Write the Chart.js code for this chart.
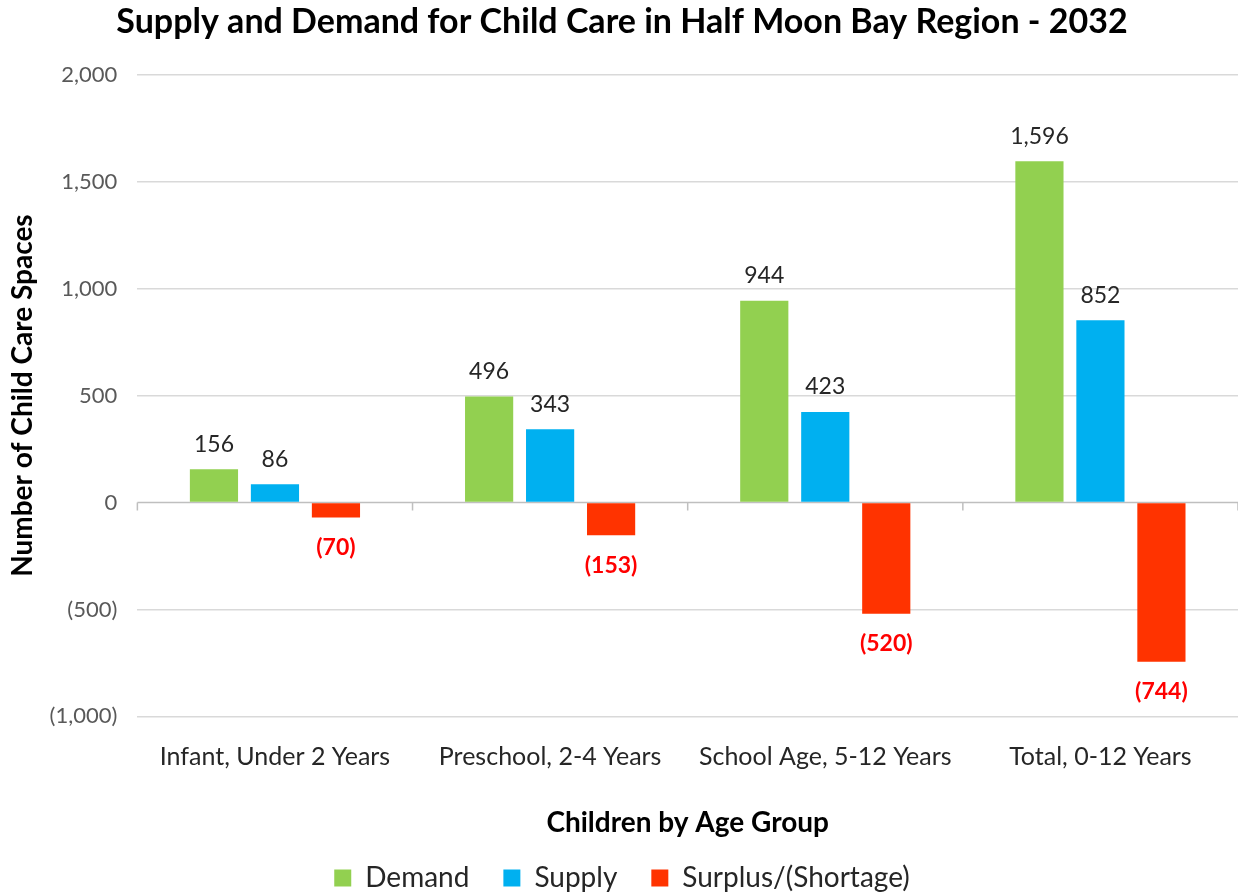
<!DOCTYPE html>
<html>
<head>
<meta charset="utf-8">
<script src="https://cdn.jsdelivr.net/npm/chart.js@4.4.0/dist/chart.umd.min.js"></script>
<style>
  html, body { margin: 0; padding: 0; background: #fff; }
  #wrap { width: 1238px; height: 894px; }
</style>
</head>
<body>
<div id="wrap"><canvas id="supplyChart" width="1238" height="894"></canvas></div>
<script>
const categories = ['Infant, Under 2 Years', 'Preschool, 2-4 Years', 'School Age, 5-12 Years', 'Total, 0-12 Years'];
const demand = [156, 496, 944, 1596];
const supply = [86, 343, 423, 852];
const surplus = [-70, -153, -520, -744];
const seriesNames = ['Demand', 'Supply', 'Surplus/(Shortage)'];
const seriesColors = ['#92D050', '#00B0F0', '#FF3300'];

const FONT = 'Lato, "Open Sans", sans-serif';

function fmt(v) {
    const s = Math.abs(v).toLocaleString('en-US');
    return v < 0 ? '(' + s + ')' : s;
}

// value labels above positive bars, red bold below negative ones
const valueLabels = {
    id: 'valueLabels',
    afterDatasetsDraw(chart) {
        const ctx = chart.ctx;
        ctx.save();
        ctx.textAlign = 'center';
        ctx.textBaseline = 'middle';
        chart.data.datasets.forEach((ds, i) => {
            chart.getDatasetMeta(i).data.forEach((bar, j) => {
                const v = ds.data[j];
                if (v < 0) {
                    ctx.font = 'bold 23px ' + FONT;
                    ctx.fillStyle = '#FF0000';
                    ctx.fillText(fmt(v), bar.x, bar.y + 30);
                } else {
                    ctx.font = '23px ' + FONT;
                    ctx.fillStyle = '#262626';
                    ctx.fillText(fmt(v), bar.x, bar.y - 25);
                }
            });
        });
        ctx.restore();
    }
};

// zero line with small ticks at category boundaries
const zeroAxis = {
    id: 'zeroAxis',
    beforeDatasetsDraw(chart) {
        const ctx = chart.ctx;
        const x = chart.scales.x, y = chart.scales.y;
        const y0 = y.getPixelForValue(0);
        const step = (x.right - x.left) / categories.length;
        ctx.save();
        ctx.strokeStyle = '#BFBFBF';
        ctx.lineWidth = 1.5;
        ctx.beginPath();
        ctx.moveTo(x.left, y0);
        ctx.lineTo(x.right, y0);
        for (let i = 0; i <= categories.length; i++) {
            const px = x.left + i * step;
            ctx.moveTo(px, y0);
            ctx.lineTo(px, y0 + 8);
        }
        ctx.stroke();
        ctx.restore();
    }
};

new Chart(document.getElementById('supplyChart').getContext('2d'), {
    type: 'bar',
    data: {
        labels: categories,
        datasets: [demand, supply, surplus].map((d, i) => ({
            label: seriesNames[i],
            data: d,
            backgroundColor: seriesColors[i],
            barPercentage: 0.79,
            categoryPercentage: 0.665
        }))
    },
    options: {
        responsive: false,
        animation: false,
        layout: { padding: { left: 6, right: 0, top: 0, bottom: -8 } },
        scales: {
            x: {
                grid: { display: false },
                border: { display: false },
                ticks: { color: '#262626', font: { family: FONT, size: 25 }, padding: 18 },
                title: {
                    display: true,
                    text: 'Children by Age Group',
                    color: '#000',
                    font: { family: FONT, size: 28, weight: 'bold' },
                    padding: { top: 16, bottom: -10 }
                }
            },
            y: {
                min: -1000,
                max: 2000,
                ticks: {
                    stepSize: 500,
                    color: '#595959',
                    font: { family: FONT, size: 22 },
                    padding: 20,
                    callback: v => fmt(v)
                },
                grid: {
                    color: ctx => ctx.tick.value === 0 ? 'rgba(0,0,0,0)' : '#D9D9D9',
                    lineWidth: 1.5,
                    drawTicks: false
                },
                border: { display: false },
                title: {
                    display: true,
                    text: 'Number of Child Care Spaces',
                    color: '#000',
                    font: { family: FONT, size: 28, weight: 'bold' },
                    padding: { top: 0, bottom: -10 }
                }
            }
        },
        plugins: {
            title: {
                display: true,
                text: 'Supply and Demand for Child Care in Half Moon Bay Region - 2032',
                color: '#000',
                font: { family: FONT, size: 34, weight: 'bold' },
                padding: { top: 2, bottom: 32 }
            },
            legend: {
                position: 'bottom',
                labels: {
                    color: '#262626',
                    boxWidth: 17,
                    boxHeight: 17,
                    padding: 34,
                    font: { family: FONT, size: 28 }
                }
            },
            tooltip: { enabled: false }
        }
    },
    plugins: [zeroAxis, valueLabels]
});
</script>
</body>
</html>
